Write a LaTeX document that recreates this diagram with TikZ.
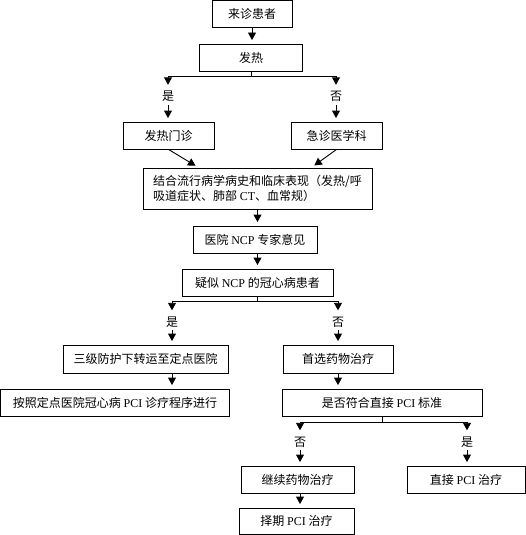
\documentclass[tikz,border=0pt]{standalone}
\usepackage{fontspec}
\setmainfont{Liberation Serif}
\newfontfamily\cjk{Noto Sans CJK SC}
\newcommand{\lat}[1]{{\rmfamily #1}}
\usetikzlibrary{arrows.meta,calc}

\begin{document}
\begin{tikzpicture}[
x=1pt,y=-1pt,
box/.style={draw,line width=0.9pt,minimum height=27pt,inner sep=0pt,font=\cjk\fontsize{12}{15}\selectfont},
lab/.style={inner sep=0pt,minimum height=16pt,font=\cjk\fontsize{12}{15}\selectfont},
edge/.style={-{Triangle[width=8pt,length=7.5pt]},line width=0.9pt,shorten >=3.5pt},
line/.style={line width=0.9pt}
]
\useasboundingbox[fill=white] (0,0) rectangle (526,535);

\node[box,minimum width=80pt] (patient) at (252,14) {来诊患者};
\node[box,minimum width=103pt] (fever) at (251,57.5) {发热};
\coordinate (fl) at (168,76);
\coordinate (fr) at (336,76);
\node[lab] (fyes) at (168,96.5) {是};
\node[lab] (fno) at (336,96.5) {否};
\node[box,minimum width=91pt] (clinic) at (168.5,135.5) {发热门诊};
\node[box,minimum width=91pt] (emerg) at (336.5,135.5) {急诊医学科};
\node[box,minimum width=229pt,minimum height=41pt,align=left] (history) at (257.5,188.5)
  {结合流行病学病史和临床表现（发热/呼\\吸道症状、肺部 \lat{CT}、血常规）};
\node[box,minimum width=124pt] (expert) at (255,239.5) {医院 \lat{NCP} 专家意见};
\node[box,minimum width=151pt] (suspect) at (257.5,282.5) {疑似 \lat{NCP} 的冠心病患者};
\coordinate (sl) at (172,301);
\coordinate (sr) at (338,301);
\node[lab] (syes) at (172,322) {是};
\node[lab] (sno) at (338,322) {否};
\node[box,minimum width=165pt,minimum height=28pt] (transfer) at (145.5,359) {三级防护下转运至定点医院};
\node[box,minimum width=110pt,minimum height=28pt] (drug) at (338,359) {首选药物治疗};
\node[box,minimum width=229pt] (follow) at (115,402.5) {按照定点医院冠心病 \lat{PCI} 诊疗程序进行};
\node[box,minimum width=200pt] (criteria) at (382,402.5) {是否符合直接 \lat{PCI} 标准};
\coordinate (cl) at (300,422);
\coordinate (cr) at (467,422);
\node[lab] (cno) at (300,442) {否};
\node[lab] (cyes) at (467,442) {是};
\node[box,minimum width=113pt] (cont) at (297.5,479.5) {继续药物治疗};
\node[box,minimum width=118pt] (direct) at (466,479.5) {直接 \lat{PCI} 治疗};
\node[box,minimum width=115pt,minimum height=26pt] (elective) at (296.5,521) {择期 \lat{PCI} 治疗};

\draw[edge] (patient.south) -- (patient.south |- fever.north);
\draw[line] (fever.south) -- (fever.south |- fl);
\draw[line] (fl) -- (fr);
\draw[edge] (fl) -- (fyes);
\draw[edge] (fr) -- (fno);
\draw[edge] (fyes.south) -- (fyes.south |- clinic.north);
\draw[edge] (fno.south) -- (fno.south |- emerg.north);
\draw[edge] (clinic.south) -- ([xshift=56pt]history.north west);
\draw[edge] (emerg.south) -- ([xshift=-61pt]history.north east);
\draw[edge] (history.south) -- (history.south |- expert.north);
\draw[edge] (history.south |- expert.south) -- (history.south |- suspect.north);

\draw[line] (suspect.south) -- (suspect.south |- sl);
\draw[line] (sl) -- (sr);
\draw[edge] (sl) -- (syes);
\draw[edge] (sr) -- (sno);
\draw[edge] (syes.south) -- (syes.south |- transfer.north);
\draw[edge] (syes.south |- transfer.south) -- (syes.south |- follow.north);
\draw[edge] (sno.south) -- (sno.south |- drug.north);
\draw[edge] (drug.south) -- (drug.south |- criteria.north);

\draw[line] (criteria.south) -- (criteria.south |- cl);
\draw[line] (cl) -- (cr);
\draw[edge] (cl) -- (cno);
\draw[edge] (cr) -- (cyes);
\draw[edge] (cno.south) -- (cno.south |- cont.north);
\draw[edge] (cyes.south) -- (cyes.south |- direct.north);
\draw[edge] (cno.south |- cont.south) -- (cno.south |- elective.north);
\end{tikzpicture}
\end{document}
